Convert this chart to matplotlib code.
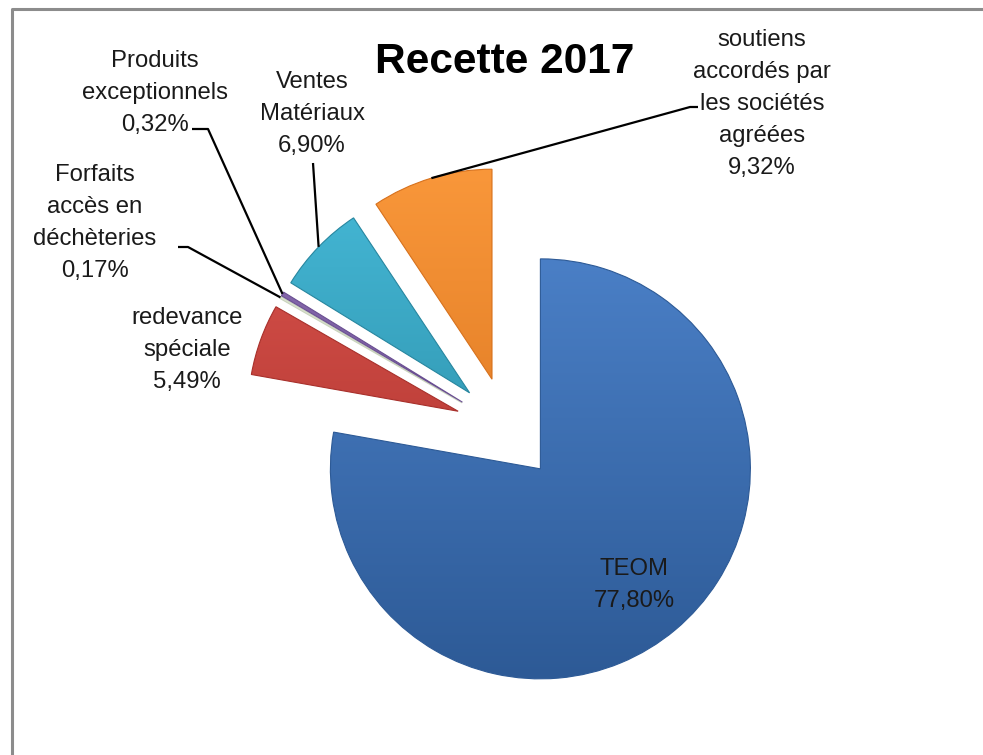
"""Pie chart of the 2017 revenue split (Recette 2017)."""

import numpy as np
import matplotlib
matplotlib.use("Agg")
import matplotlib.pyplot as plt
from matplotlib.colors import LinearSegmentedColormap

# data
categories = [
    "TEOM",
    "redevance\nspéciale",
    "Forfaits\naccès en\ndéchèteries",
    "Produits\nexceptionnels",
    "Ventes\nMatériaux",
    "soutiens\naccordés par\nles sociétés\nagréées",
]
shares = [77.80, 5.49, 0.17, 0.32, 6.90, 9.32]
title = "Recette 2017"

# light / dark shade of each slice (top -> bottom gradient)
shades = [
    ("#4a7fc6", "#2d5a96"),
    ("#d9534c", "#a8302b"),
    ("#e4ead8", "#c9d3bd"),
    ("#8a6cb0", "#6a4f92"),
    ("#45b8d6", "#27869f"),
    ("#f9973a", "#d7711c"),
]

W, H = 983, 755
plt.rcParams["font.family"] = ["Liberation Sans", "DejaVu Sans"]

fig = plt.figure(figsize=(W / 100, H / 100), dpi=100)
ax = fig.add_axes([0, 0, 1, 1])

# pie in pixel-like data units, y pointing up
radius = 210
wedges, _ = ax.pie(
    shares,
    startangle=90,
    counterclock=False,
    center=(507, H - 429),
    radius=radius,
    explode=[52] * len(shares),
    colors=[s[0] for s in shades],
    wedgeprops=dict(linewidth=0.8),
)

# fake the Excel bevel look with a vertical gradient clipped to each slice
for w, (light, dark) in zip(wedges, shades):
    cx, cy = w.center
    cmap = LinearSegmentedColormap.from_list("g", [dark, light])
    grad = np.linspace(0, 1, 256).reshape(-1, 1)
    im = ax.imshow(
        grad,
        cmap=cmap,
        origin="lower",
        extent=(cx - w.r, cx + w.r, cy - w.r, cy + w.r),
        aspect="auto",
        zorder=w.get_zorder() + 0.1,
    )
    im.set_clip_path(w)
    w.set_edgecolor(dark)
    w.set_zorder(w.get_zorder() + 0.2)
    w.set_facecolor("none")


def arc_point(w):
    """Point on the outer arc of a wedge, at its mid angle."""
    th = np.deg2rad((w.theta1 + w.theta2) / 2)
    return w.center[0] + w.r * np.cos(th), w.center[1] + w.r * np.sin(th)


# label layout (image coords: x, y from top)
label_pos = [(634, 585), (187, 350), (95, 223), (155, 93), (312, 114), (762, 104)]
for name, val, (lx, ly) in zip(categories, shares, label_pos):
    txt = f"{name}\n{val:.2f}".replace(".", ",") + "%"
    ax.text(lx, H - ly, txt, ha="center", va="center", multialignment="center",
            fontsize=17.2, color="#1a1a1a", linespacing=1.6, zorder=5)

# leader lines: fixed elbows next to the labels, end on the slice
leaders = {
    2: [(178, 247), (188, 247)],
    3: [(192, 129), (208, 129)],
    4: [(313, 163)],
    5: [(698, 107), (690, 107)],
}
for i, pts in leaders.items():
    xs = [p[0] for p in pts]
    ys = [H - p[1] for p in pts]
    ex, ey = arc_point(wedges[i])
    ax.plot(xs + [ex], ys + [ey], color="black", lw=1.6, zorder=4,
            solid_capstyle="butt")

ax.text(505, H - 62, title, ha="center", va="center", fontsize=30.5,
        fontweight="bold", color="black")

# chart frame (left and top edges are visible)
ax.plot([12, 12, W + 5], [0, H - 9, H - 9], color="#8c8c8c", lw=2.2, zorder=6)

ax.set_xlim(0, W)
ax.set_ylim(0, H)
ax.set_aspect("equal")
ax.axis("off")

plt.savefig("out.png", dpi=100, facecolor="white")
